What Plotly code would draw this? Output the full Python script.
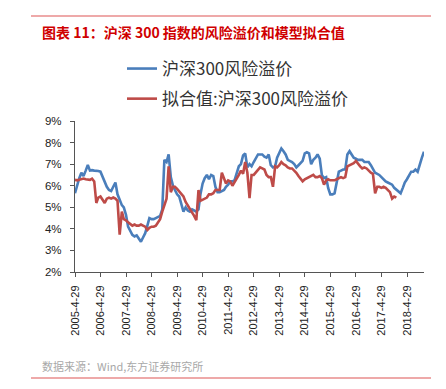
import plotly.graph_objects as go
import pandas as pd

# Monthly observations starting 2005-04-29
start_date = "2005-04-29"

hs300_premium = [
    5.65, 6.05, 6.35, 6.6, 6.45, 6.7, 6.96, 6.7, 6.72, 6.7, 6.7, 6.68,
    6.65, 6.4, 6.19, 5.95, 5.8, 5.75, 5.95, 6.15, 5.6, 5.3, 5.1, 5.0,
    4.65, 4.1, 3.9, 3.72, 3.65, 3.7, 3.55, 3.4, 3.6, 3.8, 4.15, 4.5,
    4.45, 4.45, 4.5, 4.55, 4.6, 4.9, 7.2, 7.1, 7.45, 6.4, 6.0, 5.8,
    5.6, 5.5, 5.1, 4.8, 5.0, 4.85, 4.8, 4.9, 4.85, 4.8, 4.9, 5.6,
    6.1, 6.35, 6.5, 6.3, 6.5, 6.45, 5.95, 5.7, 5.7, 5.75, 5.8, 5.95,
    6.05, 6.2, 6.2, 6.25, 6.6, 6.9, 7.0, 7.4, 7.5, 6.85, 7.0, 6.9,
    7.1, 7.3, 7.45, 7.45, 7.45, 7.35, 7.3, 7.45, 6.95, 6.85, 6.9, 7.3,
    7.5, 7.73, 7.6, 7.45, 7.2, 7.15, 7.1, 7.0, 6.85, 6.95, 7.05, 7.15,
    7.5, 7.55, 7.5, 7.0, 7.2, 7.3, 7.45, 7.25, 6.5, 6.35, 6.4, 5.9,
    5.6, 5.6, 5.65, 6.1, 6.65, 6.7, 6.75, 6.75, 7.45, 7.6, 7.45, 7.3,
    7.25, 7.2, 7.2, 7.2, 7.1, 7.1, 7.1, 6.95, 6.8, 6.6, 6.55, 6.5,
    6.4, 6.3, 6.2, 6.15, 6.1, 6.05, 5.9, 5.8, 5.75, 5.65, 5.9, 6.15,
    6.3, 6.45, 6.65, 6.65, 6.75, 6.65, 7.0, 7.3, 7.58,
]

fitted_premium = [
    6.27, 6.25, 6.28, 6.3, 6.33, 6.3, 6.28, 6.27, 6.33, 6.2, 5.2, 5.45,
    5.5, 5.35, 5.2, 5.4, 5.45, 5.4, 5.45, 5.4, 5.3, 3.73, 4.8, 4.45,
    4.4, 4.3, 4.2, 4.15, 4.2, 4.15, 4.15, 4.2, 4.15, 4.1, 3.95, 4.05,
    4.1, 4.1, 4.15, 4.3, 4.45, 4.8, 5.1, 5.4, 6.9, 5.7, 5.95, 5.95,
    5.85, 5.75, 5.6, 5.5, 5.25, 5.1, 4.9, 4.75, 4.6, 4.4, 5.8, 5.3,
    5.35, 5.4, 5.45, 5.6, 5.6, 5.65, 5.8, 5.8, 5.8, 6.6, 6.35, 6.1,
    6.25, 6.2, 6.0, 6.15, 6.3, 6.5, 6.7, 6.55, 7.1, 6.6, 5.42, 6.5,
    6.5, 6.6, 6.75, 6.85, 6.8, 6.75, 6.5, 6.4, 6.4, 5.95, 6.9, 6.85,
    6.95, 7.1, 7.0, 6.95, 6.85, 6.8, 6.8, 6.7, 6.6, 6.45, 6.3, 6.2,
    6.3, 6.35, 6.4, 6.45, 6.5, 6.4, 6.4, 6.45, 6.35, 6.05, 6.25, 6.3,
    6.25, 6.25, 6.25, 6.3, 6.35, 6.4, 6.35, 6.4, 6.9, 6.95, 7.0, 7.05,
    7.15, 7.0, 6.9, 6.8, 6.85, 6.8, 6.7, 6.6, 6.55, 5.65, 5.95, 5.95,
    5.9, 5.95, 5.9, 5.8, 5.7, 5.4, 5.5, 5.45,
]

tick_labels = ["2005-4-29", "2006-4-29", "2007-4-29", "2008-4-29", "2009-4-29",
               "2010-4-29", "2011-4-29", "2012-4-29", "2013-4-29", "2014-4-29",
               "2015-4-29", "2016-4-29", "2017-4-29", "2018-4-29"]
y_ticks = [2, 3, 4, 5, 6, 7, 8, 9]

series_names = ["沪深300风险溢价", "拟合值:沪深300风险溢价"]
title_text = "图表 11：沪深 300 指数的风险溢价和模型拟合值"
source_text = "数据来源：Wind,东方证券研究所"

dates = pd.date_range(start_date, periods=len(hs300_premium), freq=pd.DateOffset(months=1))
tick_dates = [pd.Timestamp(t) for t in tick_labels]

BLUE = "#4A7EBB"
RED = "#BE4B48"
CJK = "Noto Sans CJK SC, DejaVu Sans, sans-serif"
LAT = "Liberation Sans, Arial, sans-serif"

# plot area geometry (page has an 8px body offset)
PLOT_W, PLOT_H = 349, 151

fig = go.Figure()
fig.add_trace(go.Scatter(x=dates, y=[v / 100 for v in hs300_premium], mode="lines",
                         name=series_names[0], legendgroup="a",
                         line=dict(color=BLUE, width=2.6)))
fig.add_trace(go.Scatter(x=dates[:len(fitted_premium)], y=[v / 100 for v in fitted_premium],
                         mode="lines", name=series_names[1], legendgroup="b",
                         line=dict(color=RED, width=2.6)))

def py(pix):
    """reference pixel row -> paper y"""
    return (272 - pix) / PLOT_H

def px(pix):
    return (pix - 75) / PLOT_W

fig.update_layout(
    width=446, height=389,
    margin=dict(l=67, r=446 - 67 - PLOT_W, t=113, b=389 - 113 - PLOT_H),
    paper_bgcolor="white", plot_bgcolor="white",
    font=dict(family=CJK, color="#222"),
    showlegend=True,
    legend=dict(x=px(122), y=py(51), xanchor="left", yanchor="top",
                orientation="v",
                font=dict(size=17, color="#333", family=CJK),
                itemwidth=30, tracegroupgap=5, traceorder="grouped",
                bgcolor="rgba(0,0,0,0)"),
    xaxis=dict(
        type="date",
        range=[dates[0], dates[-1]],
        tickvals=tick_dates, ticktext=tick_labels, tickangle=-90,
        showgrid=False, zeroline=False,
        showline=True, linecolor="#555", linewidth=1.2,
        ticks="outside", ticklen=4, tickcolor="#555",
        ticklabelstandoff=4,
        tickfont=dict(size=11, color="#222", family=LAT),
    ),
    yaxis=dict(
        range=[0.02, 0.09],
        tickvals=[t / 100 for t in y_ticks], ticktext=[f"{t}%" for t in y_ticks],
        showgrid=False, zeroline=False,
        showline=True, linecolor="#555", linewidth=1.2,
        ticks="outside", ticklen=4, tickcolor="#555",
        ticklabelstandoff=6,
        tickfont=dict(size=11.5, color="#222", family=LAT),
    ),
)

# Header and footer rules
fig.add_shape(type="line", xref="paper", yref="paper",
              x0=px(31), x1=px(431), y0=py(16), y1=py(16),
              line=dict(color="#E88C8C", width=1.5))
fig.add_shape(type="line", xref="paper", yref="paper",
              x0=px(31), x1=px(431), y0=py(378), y1=py(378),
              line=dict(color="#E88C8C", width=1.5))

fig.add_annotation(text=f"<b>{title_text}</b>", xref="paper", yref="paper",
                   x=px(40), y=py(32), xanchor="left", yanchor="middle",
                   showarrow=False, font=dict(size=14, color="#D00000", family=CJK))
fig.add_annotation(text=source_text, xref="paper", yref="paper",
                   x=px(40), y=py(366), xanchor="left", yanchor="middle",
                   showarrow=False, font=dict(size=11, color="#A8A8A8", family=CJK))

fig.write_html("out.html")
